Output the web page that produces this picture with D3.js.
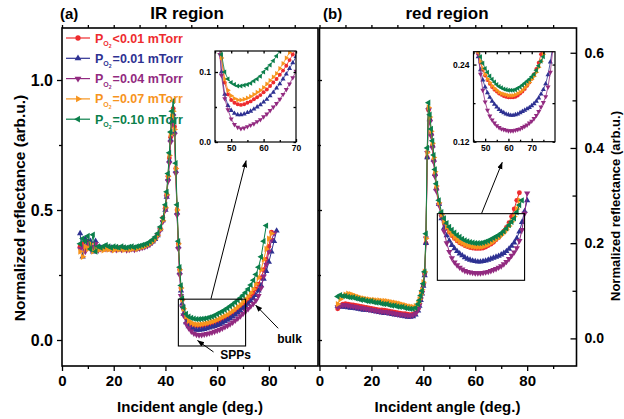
<!DOCTYPE html>
<html><head><meta charset="utf-8">
<script src="https://cdn.jsdelivr.net/npm/d3@7"></script>
<style>
html,body{margin:0;padding:0;background:#fff;}
svg{display:block;font-family:"Liberation Sans",Arial,Helvetica,sans-serif;font-weight:bold;}
</style></head><body>
<svg id="chart" width="624" height="419"></svg>
<script>
// ---- Reflectance vs incident angle, IR region (a) ----
const angleIR = [7,8,9,10,11,12,13,14,15,16,17,18,19,20,21,22,23,24,25,26,27,28,29,30,31,32,33,34,35,36,37,38,39,
  40,40.5,41,41.5,42,42.5,43,43.5,44,44.5,45,45.5,46,46.5,47,
  48,49,50,51,52,53,54,55,56,57,58,59,60,61,62,63,64,65,66,67,68,69,70,71,72,73,74,75,76,77,78,79,80,81,82,83];

const irRed = [0.36,0.37,0.35,0.38,0.36,0.35,0.36,0.355,0.35,0.355,0.36,0.355,0.35,0.355,0.35,0.355,0.35,0.355,0.35,0.352,0.355,0.35,0.355,0.357,0.36,0.362,0.366,0.372,0.38,0.39,0.405,0.43,0.47,
  0.51,0.56,0.63,0.70,0.78,0.85,0.89,0.82,0.66,0.50,0.37,0.27,0.20,0.155,0.12,
  0.085,0.068,0.06,0.056,0.054,0.053,0.054,0.056,0.058,0.061,0.064,0.067,0.071,0.075,0.08,0.085,0.09,0.096,0.102,0.109,0.117,0.125,0.134,0.144,0.155,0.167,0.18,0.196,0.215,0.24,0.27,0.31,0.36,0.415,null,null];
const irBlue = [0.41,0.32,0.39,0.37,0.38,0.34,0.38,0.35,0.355,0.35,0.36,0.35,0.355,0.35,0.352,0.35,0.348,0.352,0.35,0.348,0.35,0.352,0.35,0.353,0.356,0.36,0.364,0.37,0.378,0.388,0.402,0.425,0.46,
  0.50,0.55,0.62,0.69,0.77,0.84,0.87,0.80,0.65,0.49,0.36,0.26,0.19,0.14,0.10,
  0.068,0.052,0.045,0.041,0.039,0.039,0.04,0.042,0.044,0.047,0.05,0.053,0.057,0.061,0.066,0.071,0.077,0.083,0.09,0.097,0.105,0.113,0.122,0.13,0.139,0.149,0.16,0.172,0.19,0.21,0.235,0.265,0.3,0.34,0.38,0.42];
const irPurple = [0.35,0.36,0.34,0.37,0.35,0.36,0.37,0.345,0.35,0.355,0.35,0.352,0.348,0.35,0.347,0.35,0.348,0.35,0.346,0.348,0.35,0.348,0.35,0.352,0.355,0.358,0.362,0.368,0.376,0.386,0.4,0.422,0.455,
  0.50,0.55,0.61,0.68,0.76,0.83,0.86,0.79,0.64,0.48,0.35,0.25,0.17,0.125,0.095,
  0.062,0.046,0.033,0.025,0.021,0.019,0.02,0.022,0.024,0.026,0.029,0.032,0.036,0.04,0.045,0.05,0.055,0.061,0.068,0.075,0.083,0.092,0.101,0.11,0.12,0.13,0.14,0.152,0.17,0.2,0.245,0.29,0.34,0.385,0.41,null];
const irOrange = [0.34,0.32,0.36,0.35,0.37,0.34,0.35,0.345,0.35,0.345,0.35,0.348,0.35,0.345,0.35,0.348,0.35,0.347,0.35,0.348,0.35,0.352,0.35,0.355,0.357,0.36,0.365,0.37,0.378,0.388,0.402,0.425,0.46,
  0.51,0.56,0.63,0.71,0.79,0.86,0.88,0.81,0.66,0.50,0.37,0.27,0.20,0.155,0.12,
  0.09,0.074,0.066,0.062,0.06,0.06,0.061,0.063,0.065,0.068,0.071,0.074,0.078,0.083,0.088,0.093,0.098,0.105,0.112,0.12,0.128,0.137,0.147,0.157,0.168,0.181,0.196,0.215,0.24,0.27,0.31,0.35,0.39,0.41,null,null];
const irGreen = [0.37,0.39,0.38,0.40,0.35,0.405,0.34,0.36,0.355,0.36,0.365,0.36,0.355,0.36,0.358,0.355,0.36,0.356,0.355,0.358,0.36,0.356,0.36,0.362,0.365,0.368,0.372,0.378,0.386,0.396,0.41,0.435,0.47,
  0.52,0.57,0.64,0.72,0.80,0.88,0.92,0.84,0.68,0.52,0.38,0.28,0.21,0.16,0.125,
  0.1,0.09,0.085,0.082,0.08,0.08,0.081,0.082,0.084,0.087,0.09,0.094,0.1,0.105,0.11,0.116,0.123,0.13,0.137,0.145,0.153,0.162,0.172,0.183,0.196,0.212,0.23,0.252,0.28,0.32,0.38,0.44,null,null,null,null];

// ---- Reflectance vs incident angle, red region (b) ----
const angleRed = [7,8,9,10,11,12,13,14,15,16,17,18,19,20,21,22,23,24,25,26,27,28,29,30,31,32,33,34,35,36,37,
  38,38.5,39,39.5,40,40.5,41,41.5,42,42.5,43,43.5,44,44.5,45,46,
  47,48,49,50,51,52,53,54,55,56,57,58,59,60,61,62,63,64,65,66,67,68,69,70,71,72,73,74,75,76,77,78,79,80];

const redRed = [0.062,0.068,0.072,0.073,0.072,0.071,0.07,0.069,0.068,0.067,0.066,0.065,0.064,0.063,0.062,0.061,0.06,0.06,0.059,0.058,0.057,0.056,0.055,0.054,0.053,0.052,0.052,0.051,0.05,0.051,0.054,
  0.062,0.072,0.085,0.098,0.112,0.135,0.2,0.38,0.48,0.46,0.43,0.405,0.375,0.345,0.315,0.283,
  0.258,0.243,0.232,0.223,0.216,0.21,0.205,0.201,0.198,0.195,0.193,0.191,0.19,0.189,0.189,0.189,0.19,0.192,0.195,0.198,0.202,0.207,0.212,0.218,0.225,0.233,0.243,0.256,0.272,0.29,0.306,null,null,null];
const redBlue = [0.068,0.067,0.066,0.066,0.065,0.064,0.064,0.063,0.062,0.061,0.06,0.06,0.059,0.058,0.057,0.056,0.055,0.054,0.053,0.053,0.052,0.051,0.05,0.049,0.048,0.047,0.046,0.045,0.045,0.046,0.05,
  0.058,0.068,0.08,0.094,0.11,0.132,0.2,0.38,0.485,0.46,0.43,0.405,0.375,0.345,0.315,0.282,
  0.252,0.232,0.216,0.205,0.196,0.189,0.183,0.178,0.174,0.17,0.167,0.165,0.163,0.162,0.161,0.161,0.162,0.163,0.165,0.167,0.169,0.171,0.173,0.176,0.179,0.183,0.188,0.194,0.201,0.21,0.224,0.244,0.267,0.29];
const redPurple = [0.066,0.069,0.07,0.07,0.069,0.068,0.067,0.066,0.065,0.064,0.063,0.062,0.061,0.06,0.059,0.058,0.057,0.056,0.056,0.055,0.054,0.053,0.052,0.051,0.05,0.05,0.049,0.048,0.048,0.049,0.052,
  0.06,0.07,0.082,0.096,0.112,0.135,0.21,0.39,0.48,0.455,0.425,0.4,0.37,0.34,0.31,0.28,
  0.255,0.225,0.2,0.182,0.169,0.16,0.154,0.149,0.145,0.142,0.14,0.139,0.138,0.137,0.137,0.137,0.138,0.139,0.14,0.142,0.144,0.146,0.149,0.152,0.156,0.161,0.167,0.174,0.181,0.19,0.205,0.228,0.262,0.305];
const redOrange = [0.072,0.082,0.088,0.092,0.094,0.093,0.091,0.089,0.087,0.085,0.084,0.083,0.082,0.081,0.081,0.08,0.08,0.079,0.079,0.078,0.077,0.076,0.075,0.074,0.073,0.071,0.07,0.068,0.067,0.066,0.068,
  0.074,0.082,0.092,0.102,0.118,0.14,0.21,0.39,0.485,0.465,0.435,0.41,0.38,0.35,0.32,0.285,
  0.26,0.245,0.234,0.225,0.218,0.212,0.207,0.203,0.2,0.197,0.195,0.194,0.193,0.192,0.192,0.192,0.193,0.195,0.197,0.2,0.204,0.208,0.212,0.217,0.222,0.228,0.236,0.245,0.256,0.272,0.29,null,null,null];
const redGreen = [0.088,0.091,0.089,0.089,0.087,0.086,0.086,0.084,0.083,0.081,0.081,0.079,0.078,0.078,0.076,0.075,0.075,0.073,0.072,0.072,0.07,0.069,0.069,0.067,0.066,0.066,0.064,0.063,0.062,0.062,0.064,
  0.072,0.08,0.09,0.1,0.115,0.14,0.22,0.4,0.495,0.47,0.44,0.415,0.385,0.355,0.325,0.29,
  0.265,0.252,0.242,0.234,0.228,0.222,0.217,0.213,0.209,0.206,0.204,0.202,0.201,0.2,0.2,0.2,0.201,0.203,0.205,0.208,0.211,0.214,0.217,0.221,0.225,0.231,0.238,0.245,0.252,0.265,0.28,0.29,null,null];

// Oxygen partial pressure of each sample (legend)
const pressureLabels = ["<0.01 mTorr", "=0.01 mTorr", "=0.04 mTorr", "=0.07 mTorr", "=0.10 mTorr"];
const seriesColors = ["#ee2b2e", "#2e3192", "#922a80", "#f7941d", "#0b7f4b"];

// Axis ticks
const angleTicks = [0, 20, 40, 60, 80];
const angleMinor = [10, 30, 50, 70, 90];
const irTicks = [0.0, 0.5, 1.0];
const irMinor = [0.25, 0.75];
const redTicks = [0.0, 0.2, 0.4, 0.6];
const redMinor = [0.1, 0.3, 0.5];
const insetAngleTicks = [50, 60, 70];
const insetIrTicks = [0.0, 0.1];
const insetRedTicks = [0.12, 0.24];

// Zoom windows (angle range, reflectance range) and annotation arrows, in data units
const boxIR = [45, 71, -0.023, 0.157];
const boxRed = [45.4, 79, 0.122, 0.262];
const arrowIR = [[57.6, 0.158], [71.2, 0.69]];
const arrowRed = [[62.4, 0.262], [70.4, 0.37]];
const arrowSPP = [[58.6, -0.046], [52.4, -0.002]];
const arrowBulk = [[83.6, 0.045], [74.9, 0.134]];

// ------------------------------------------------------------------
const svg = d3.select("#chart");
const FONT = '"Liberation Sans", Arial, Helvetica, sans-serif';

const defs = svg.append("defs");
defs.append("marker").attr("id", "ahead").attr("viewBox", "0 0 10 10")
  .attr("refX", 9.5).attr("refY", 5).attr("markerWidth", 7).attr("markerHeight", 7)
  .attr("markerUnits", "userSpaceOnUse").attr("orient", "auto")
  .append("path").attr("d", "M0,1.2 L10,5 L0,8.8 Z").attr("fill", "#000");

const xIR = d3.scaleLinear().domain([0, 99]).range([62, 318]);
const yIR = d3.scaleLinear().domain([-0.1, 1.2]).range([366, 28]);
const xRed = d3.scaleLinear().domain([0, 99]).range([319.5, 576.5]);
const yRed = d3.scaleLinear().domain([-0.058, 0.652]).range([366, 28]);

const xInIR = d3.scaleLinear().domain([45, 70]).range([215, 296]);
const yInIR = d3.scaleLinear().domain([0, 0.13]).range([142, 51]);
const xInRed = d3.scaleLinear().domain([45, 80]).range([473.5, 555]);
const yInRed = d3.scaleLinear().domain([0.12, 0.26]).range([141.7, 51.7]);

const markers = [
  { type: d3.symbolCircle, rot: 0 },
  { type: d3.symbolTriangle, rot: 0 },
  { type: d3.symbolTriangle, rot: 180 },
  { type: d3.symbolTriangle, rot: 90 },
  { type: d3.symbolTriangle, rot: -90 }
];

function clipFor(id, x, y) {
  const r = [x.range(), y.range()];
  defs.append("clipPath").attr("id", id).append("rect")
    .attr("x", Math.min(...r[0])).attr("y", Math.min(...r[1]))
    .attr("width", Math.abs(r[0][1] - r[0][0])).attr("height", Math.abs(r[1][1] - r[1][0]));
  return `url(#${id})`;
}

function plotSeries(g, angles, values, x, y, color, mk, size, lw) {
  const pts = angles.map((a, i) => [a, values[i]]).filter(d => d[1] != null);
  g.append("path").datum(pts).attr("fill", "none").attr("stroke", color)
    .attr("stroke-width", lw).attr("d", d3.line().x(d => x(d[0])).y(d => y(d[1])));
  const sym = d3.symbol().type(mk.type).size(mk.type === d3.symbolCircle ? size * 1.1 : size);
  g.append("g").selectAll("path").data(pts).join("path")
    .attr("d", sym)
    .attr("transform", d => `translate(${x(d[0])},${y(d[1])}) rotate(${mk.rot})`)
    .attr("fill", color);
}

function styleAxis(g, fs) {
  g.select(".domain").remove();
  g.selectAll("line").attr("stroke", "#000").attr("stroke-width", 1.3);
  g.selectAll("text").attr("font-family", FONT).attr("font-weight", "bold")
    .attr("font-size", fs).attr("fill", "#000");
  return g;
}

function frame(x, y, sw) {
  svg.append("rect").attr("x", x.range()[0]).attr("y", y.range()[1])
    .attr("width", x.range()[1] - x.range()[0]).attr("height", y.range()[0] - y.range()[1])
    .attr("fill", "none").attr("stroke", "#000").attr("stroke-width", sw);
}

// ---------- main panels: data ----------
const irSeries = [irRed, irBlue, irPurple, irOrange, irGreen];
const redSeries = [redRed, redBlue, redPurple, redOrange, redGreen];

const gA = svg.append("g").attr("clip-path", clipFor("clipA", xIR, yIR));
irSeries.forEach((s, i) => plotSeries(gA, angleIR, s, xIR, yIR, seriesColors[i], markers[i], 17, 1));
const gB = svg.append("g").attr("clip-path", clipFor("clipB", xRed, yRed));
redSeries.forEach((s, i) => plotSeries(gB, angleRed, s, xRed, yRed, seriesColors[i], markers[i], 17, 1));

// ---------- main panels: axes ----------
styleAxis(svg.append("g").attr("transform", "translate(0,366)")
  .call(d3.axisBottom(xIR).tickValues(angleTicks).tickSize(5).tickPadding(4)), 15);
styleAxis(svg.append("g").attr("transform", "translate(0,366)")
  .call(d3.axisBottom(xIR).tickValues(angleMinor).tickSize(3).tickFormat("")), 15);
styleAxis(svg.append("g").attr("transform", "translate(0,28)")
  .call(d3.axisTop(xIR).tickValues(angleTicks.concat(angleMinor)).tickSize(3).tickFormat("")), 15);
styleAxis(svg.append("g").attr("transform", "translate(62,0)")
  .call(d3.axisLeft(yIR).tickValues(irTicks).tickSize(5).tickPadding(4).tickFormat(d3.format(".1f"))), 16);
styleAxis(svg.append("g").attr("transform", "translate(62,0)")
  .call(d3.axisLeft(yIR).tickValues(irMinor).tickSize(3).tickFormat("")), 16);
styleAxis(svg.append("g").attr("transform", "translate(318,0)")
  .call(d3.axisRight(yIR).tickValues(irTicks).tickSize(4).tickFormat("")), 16);
styleAxis(svg.append("g").attr("transform", "translate(318,0)")
  .call(d3.axisRight(yIR).tickValues(irMinor).tickSize(3).tickFormat("")), 16);

styleAxis(svg.append("g").attr("transform", "translate(0,366)")
  .call(d3.axisBottom(xRed).tickValues(angleTicks).tickSize(5).tickPadding(4)), 15);
styleAxis(svg.append("g").attr("transform", "translate(0,366)")
  .call(d3.axisBottom(xRed).tickValues(angleMinor).tickSize(3).tickFormat("")), 15);
styleAxis(svg.append("g").attr("transform", "translate(0,28)")
  .call(d3.axisTop(xRed).tickValues(angleTicks.concat(angleMinor)).tickSize(3).tickFormat("")), 15);
styleAxis(svg.append("g").attr("transform", "translate(576.5,0)")
  .call(d3.axisRight(yRed).tickValues(redTicks).tickSizeInner(-6).tickSizeOuter(0).tickPadding(8).tickFormat(d3.format(".1f"))), 14);
styleAxis(svg.append("g").attr("transform", "translate(576.5,0)")
  .call(d3.axisRight(yRed).tickValues(redMinor).tickSizeInner(-4).tickSizeOuter(0).tickFormat("")), 14);

frame(xIR, yIR, 1.6);
frame(xRed, yRed, 1.6);

// ---------- zoom boxes and arrows ----------
function box(x, y, b) {
  svg.append("rect").attr("x", x(b[0])).attr("y", y(b[3]))
    .attr("width", x(b[1]) - x(b[0])).attr("height", y(b[2]) - y(b[3]))
    .attr("fill", "none").attr("stroke", "#000").attr("stroke-width", 1.1);
}
function arrow(x, y, a) {
  svg.append("line").attr("x1", x(a[0][0])).attr("y1", y(a[0][1]))
    .attr("x2", x(a[1][0])).attr("y2", y(a[1][1]))
    .attr("stroke", "#000").attr("stroke-width", 1).attr("marker-end", "url(#ahead)");
}
box(xIR, yIR, boxIR);
box(xRed, yRed, boxRed);
arrow(xIR, yIR, arrowIR);
arrow(xRed, yRed, arrowRed);
arrow(xIR, yIR, arrowSPP);
arrow(xIR, yIR, arrowBulk);

svg.append("text").attr("x", xIR(61.2)).attr("y", yIR(-0.073)).text("SPPs")
  .attr("font-size", 12).attr("fill", "#000");
svg.append("text").attr("x", xIR(83.2)).attr("y", yIR(-0.012)).text("bulk")
  .attr("font-size", 12).attr("fill", "#000");

// ---------- insets ----------
function inset(id, x, y, series, angles, yTicks, yMinor, yFmt, xMinor) {
  svg.append("rect").attr("x", x.range()[0]).attr("y", y.range()[1])
    .attr("width", x.range()[1] - x.range()[0]).attr("height", y.range()[0] - y.range()[1])
    .attr("fill", "#fff");
  const g = svg.append("g").attr("clip-path", clipFor(id, x, y));
  series.forEach((s, i) => plotSeries(g, angles, s, x, y, seriesColors[i], markers[i], 11, 0.8));
  const x0 = x.range()[0], x1 = x.range()[1], y0 = y.range()[0], y1 = y.range()[1];
  styleAxis(svg.append("g").attr("transform", `translate(0,${y0})`)
    .call(d3.axisBottom(x).tickValues(insetAngleTicks).tickSizeInner(-3).tickSizeOuter(0).tickPadding(3)), 8.5);
  styleAxis(svg.append("g").attr("transform", `translate(0,${y0})`)
    .call(d3.axisBottom(x).tickValues(xMinor).tickSizeInner(-2).tickSizeOuter(0).tickFormat("")), 8.5);
  styleAxis(svg.append("g").attr("transform", `translate(0,${y1})`)
    .call(d3.axisTop(x).tickValues(insetAngleTicks.concat(xMinor)).tickSizeInner(-2.5).tickSizeOuter(0).tickFormat("")), 8.5);
  styleAxis(svg.append("g").attr("transform", `translate(${x0},0)`)
    .call(d3.axisLeft(y).tickValues(yTicks).tickSizeInner(-3).tickSizeOuter(0).tickPadding(4).tickFormat(d3.format(yFmt))), 8.5);
  styleAxis(svg.append("g").attr("transform", `translate(${x0},0)`)
    .call(d3.axisLeft(y).tickValues(yMinor).tickSizeInner(-2).tickSizeOuter(0).tickFormat("")), 8.5);
  styleAxis(svg.append("g").attr("transform", `translate(${x1},0)`)
    .call(d3.axisRight(y).tickValues(yTicks.concat(yMinor)).tickSizeInner(-2.5).tickSizeOuter(0).tickFormat("")), 8.5);
  svg.append("rect").attr("x", x0).attr("y", y1).attr("width", x1 - x0).attr("height", y0 - y1)
    .attr("fill", "none").attr("stroke", "#000").attr("stroke-width", 1.2);
}
inset("clipIA", xInIR, yInIR, irSeries, angleIR, insetIrTicks, [0.05], ".1f", [45, 55, 65]);
inset("clipIB", xInRed, yInRed, redSeries, angleRed, insetRedTicks, [0.18], ".2f", [45, 55, 65, 75]);

// ---------- legend ----------
const legend = svg.append("g");
pressureLabels.forEach((lab, i) => {
  const ly = 38 + i * 20.3;
  legend.append("line").attr("x1", 66).attr("x2", 90).attr("y1", ly).attr("y2", ly)
    .attr("stroke", seriesColors[i]).attr("stroke-width", 1.2);
  legend.append("path")
    .attr("d", d3.symbol().type(markers[i].type).size(markers[i].type === d3.symbolCircle ? 22 : 20))
    .attr("transform", `translate(78,${ly}) rotate(${markers[i].rot})`)
    .attr("fill", seriesColors[i]);
  const t = legend.append("text").attr("x", 95).attr("y", ly + 4.5)
    .attr("fill", seriesColors[i]).attr("font-size", 12.5);
  t.append("tspan").text("P");
  t.append("tspan").attr("dy", 3.5).attr("font-size", 7).text("O");
  t.append("tspan").attr("dy", 2).attr("font-size", 5).text("2");
  t.append("tspan").attr("dy", -5.5).attr("dx", 1).text(lab);
});

// ---------- titles and axis labels ----------
svg.append("text").attr("x", 60).attr("y", 19).attr("font-size", 15).text("(a)");
svg.append("text").attr("x", 187).attr("y", 19).attr("font-size", 17).attr("text-anchor", "middle").text("IR region");
svg.append("text").attr("x", 323).attr("y", 19).attr("font-size", 15).text("(b)");
svg.append("text").attr("x", 447).attr("y", 19).attr("font-size", 17).attr("text-anchor", "middle").text("red region");

svg.append("text").attr("x", 190).attr("y", 412).attr("font-size", 15).attr("text-anchor", "middle").text("Incident angle (deg.)");
svg.append("text").attr("x", 447.5).attr("y", 412).attr("font-size", 15).attr("text-anchor", "middle").text("Incident angle (deg.)");

svg.append("text").attr("transform", "translate(19.5,208) rotate(-90)").attr("dominant-baseline", "central")
  .attr("font-size", 15.5).attr("text-anchor", "middle").text("Normalized reflectance (arb.u.)");
svg.append("text").attr("transform", "translate(615.5,206) rotate(-90)").attr("dominant-baseline", "central")
  .attr("font-size", 13).attr("text-anchor", "middle").text("Normalized reflectance (arb.u.)");
</script>
</body></html>
